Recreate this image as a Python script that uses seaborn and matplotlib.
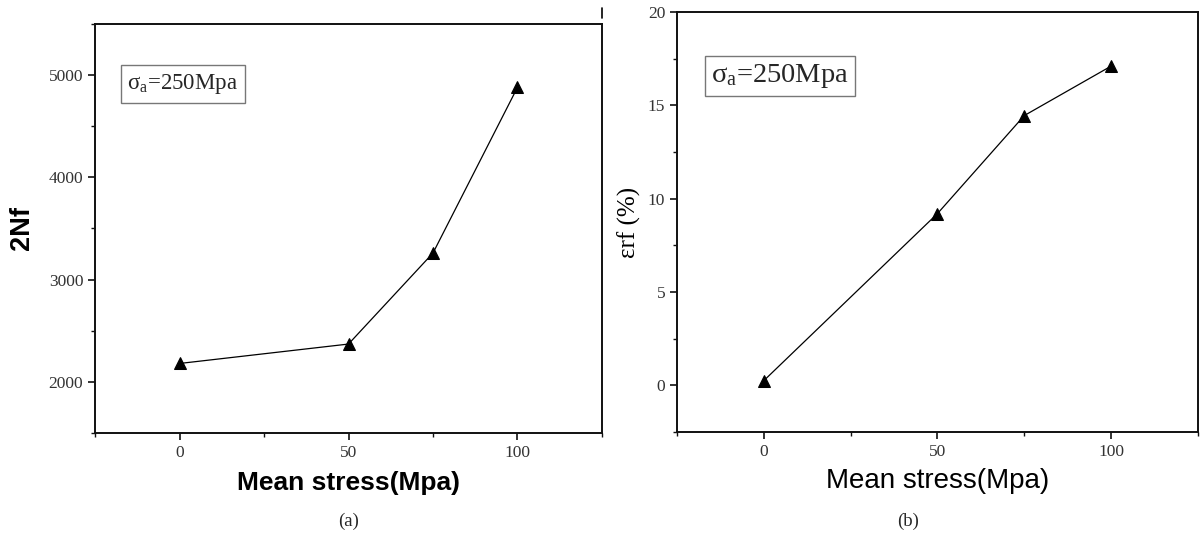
import matplotlib
matplotlib.use("Agg")
import matplotlib.pyplot as plt
from matplotlib.ticker import MultipleLocator
from matplotlib.lines import Line2D
import seaborn as sns
import pandas as pd

# ---------- DATA ----------
mean_stress = [0, 50, 75, 100]
cycles_2nf = [2180, 2370, 3260, 4880]
strain_rf = [0.25, 9.2, 14.45, 17.1]
box_text = r"$\mathregular{\sigma_a}$=250Mpa"

sns.set_style("ticks")
plt.rcParams["font.family"] = ["Liberation Serif", "DejaVu Serif"]
plt.rcParams["mathtext.fontset"] = "custom"
plt.rcParams["mathtext.rm"] = "Liberation Serif"
plt.rcParams["mathtext.it"] = "Liberation Serif:italic"
plt.rcParams["axes.labelcolor"] = "black"

df_a = pd.DataFrame({"x": mean_stress, "y": cycles_2nf})
df_b = pd.DataFrame({"x": mean_stress, "y": strain_rf})

fig = plt.figure(figsize=(12.03, 5.44), dpi=100)
ax1 = fig.add_axes([0.079, 0.204, 0.4214, 0.752])
ax2 = fig.add_axes([0.5628, 0.206, 0.433, 0.772])


def style_axes(ax):
    for s in ax.spines.values():
        s.set_linewidth(1.4)
        s.set_color("#111111")
    ax.tick_params(which="major", direction="out", length=5, width=1.2,
                   labelsize=12.5, labelcolor="#333333", color="#111111")
    ax.tick_params(which="minor", direction="out", length=3, width=1.0, color="#111111")
    ax.xaxis.set_major_locator(MultipleLocator(50))
    ax.xaxis.set_minor_locator(MultipleLocator(25))
    ax.set_xlim(-25, 125)


# ---------- (a) ----------
sns.lineplot(data=df_a, x="x", y="y", ax=ax1, color="black", linewidth=0.9,
             marker="^", markersize=8, markeredgecolor="black", markerfacecolor="black")
style_axes(ax1)
ax1.set_ylim(1500, 5500)
ax1.yaxis.set_major_locator(MultipleLocator(1000))
ax1.yaxis.set_minor_locator(MultipleLocator(500))
ax1.set_xlabel("Mean stress(Mpa)", fontsize=19, fontweight="bold",
               family="Liberation Sans", labelpad=7)
ax1.set_ylabel("2Nf", fontsize=19.5, fontweight="bold", family="Liberation Sans", labelpad=10)
ax1.text(0.064, 0.853, box_text, transform=ax1.transAxes, fontsize=16.5,
         va="center", ha="left",
         bbox=dict(boxstyle="square,pad=0.3", facecolor="white", edgecolor="#777777", linewidth=1))

# ---------- (b) ----------
sns.lineplot(data=df_b, x="x", y="y", ax=ax2, color="black", linewidth=0.9,
             marker="^", markersize=8, markeredgecolor="black", markerfacecolor="black")
style_axes(ax2)
ax2.set_ylim(-2.5, 20)
ax2.yaxis.set_major_locator(MultipleLocator(5))
ax2.yaxis.set_minor_locator(MultipleLocator(2.5))
ax2.set_xlabel("Mean stress(Mpa)", fontsize=20, family="Liberation Sans", labelpad=6)
ax2.set_ylabel("εrf (%)", fontsize=18, labelpad=5)
ax2.text(0.066, 0.847, box_text, transform=ax2.transAxes, fontsize=20.5,
         va="center", ha="left",
         bbox=dict(boxstyle="square,pad=0.22", facecolor="white", edgecolor="#777777", linewidth=1))

# captions
fig.text(0.29, 0.042, "(a)", fontsize=13.5, ha="center", va="center")
fig.text(0.755, 0.042, "(b)", fontsize=13.5, ha="center", va="center")

# small stray mark at top of panel (a)
fig.add_artist(Line2D([0.5004, 0.5004], [0.967, 0.985], color="black", linewidth=1.2))

fig.savefig("out.png", dpi=100)
